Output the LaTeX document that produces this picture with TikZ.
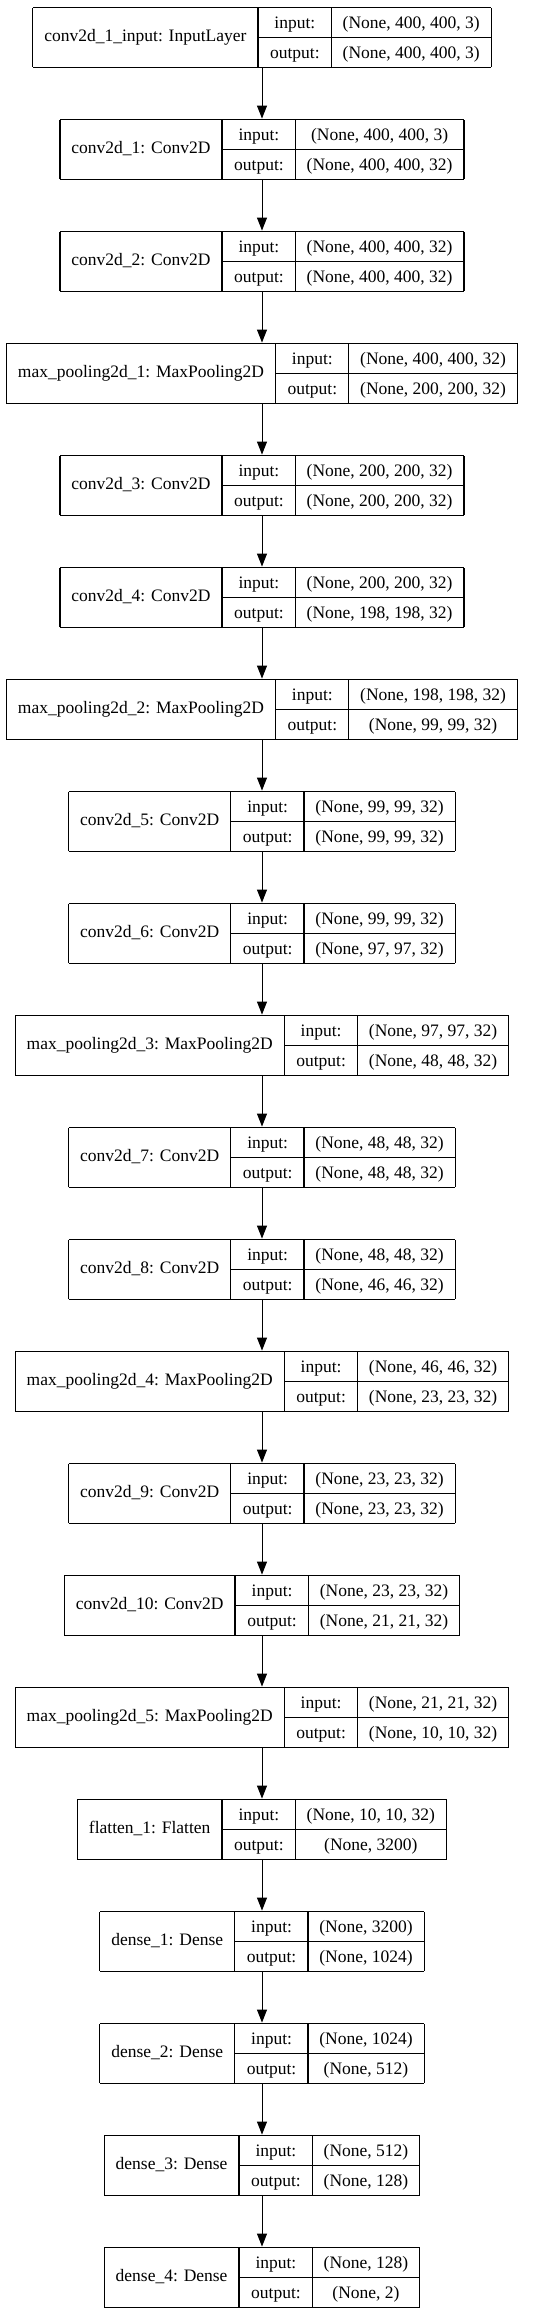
\documentclass[tikz,border=0pt]{standalone}
\usepackage{fontspec}
\setmainfont{Liberation Serif}
\usetikzlibrary{arrows.meta}

\newcommand\lfont{\fontsize{17.5}{21}\selectfont}
\setlength\arrayrulewidth{1.3pt}
\setlength\tabcolsep{11.5pt}
\renewcommand\arraystretch{1.371}

\tikzset{
  layerbox/.style={inner sep=0pt, font=\lfont},
  flow/.style={line width=1pt, -{Triangle[length=13pt,width=10pt]}},
}

% \layer{name}{label}{input shape}{output shape}{y}
\newcommand\layer[5]{%
  \node[layerbox] (#1) at (262pt,-#5pt) {\begin{tabular}{|c|@{}c@{}|}\hline
      #2 & \begin{tabular}{c|c}input: & #3\\ \hline output: & #4\end{tabular}\\ \hline
    \end{tabular}};
}

\begin{document}
\begin{tikzpicture}
  \fill[white] (0,0) rectangle (533pt,-2315pt);

  \layer{l1}{conv2d\_1\_input: InputLayer}{(None, 400, 400, 3)}{(None, 400, 400, 3)}{37.5}
  \layer{l2}{conv2d\_1: Conv2D}{(None, 400, 400, 3)}{(None, 400, 400, 32)}{149.5}
  \layer{l3}{conv2d\_2: Conv2D}{(None, 400, 400, 32)}{(None, 400, 400, 32)}{261.5}
  \layer{l4}{max\_pooling2d\_1: MaxPooling2D}{(None, 400, 400, 32)}{(None, 200, 200, 32)}{373.5}
  \layer{l5}{conv2d\_3: Conv2D}{(None, 200, 200, 32)}{(None, 200, 200, 32)}{485.5}
  \layer{l6}{conv2d\_4: Conv2D}{(None, 200, 200, 32)}{(None, 198, 198, 32)}{597.5}
  \layer{l7}{max\_pooling2d\_2: MaxPooling2D}{(None, 198, 198, 32)}{(None, 99, 99, 32)}{709.5}
  \layer{l8}{conv2d\_5: Conv2D}{(None, 99, 99, 32)}{(None, 99, 99, 32)}{821.5}
  \layer{l9}{conv2d\_6: Conv2D}{(None, 99, 99, 32)}{(None, 97, 97, 32)}{933.5}
  \layer{l10}{max\_pooling2d\_3: MaxPooling2D}{(None, 97, 97, 32)}{(None, 48, 48, 32)}{1045.5}
  \layer{l11}{conv2d\_7: Conv2D}{(None, 48, 48, 32)}{(None, 48, 48, 32)}{1157.5}
  \layer{l12}{conv2d\_8: Conv2D}{(None, 48, 48, 32)}{(None, 46, 46, 32)}{1269.5}
  \layer{l13}{max\_pooling2d\_4: MaxPooling2D}{(None, 46, 46, 32)}{(None, 23, 23, 32)}{1381.5}
  \layer{l14}{conv2d\_9: Conv2D}{(None, 23, 23, 32)}{(None, 23, 23, 32)}{1493.5}
  \layer{l15}{conv2d\_10: Conv2D}{(None, 23, 23, 32)}{(None, 21, 21, 32)}{1605.5}
  \layer{l16}{max\_pooling2d\_5: MaxPooling2D}{(None, 21, 21, 32)}{(None, 10, 10, 32)}{1717.5}
  \layer{l17}{flatten\_1: Flatten}{(None, 10, 10, 32)}{(None, 3200)}{1829.5}
  \layer{l18}{dense\_1: Dense}{(None, 3200)}{(None, 1024)}{1941.5}
  \layer{l19}{dense\_2: Dense}{(None, 1024)}{(None, 512)}{2053.5}
  \layer{l20}{dense\_3: Dense}{(None, 512)}{(None, 128)}{2165.5}
  \layer{l21}{dense\_4: Dense}{(None, 128)}{(None, 2)}{2277.5}

  \foreach \a [evaluate=\a as \b using int(\a+1)] in {1,...,20}
    \draw[flow] (l\a.south) -- (l\b.north);
\end{tikzpicture}
\end{document}
